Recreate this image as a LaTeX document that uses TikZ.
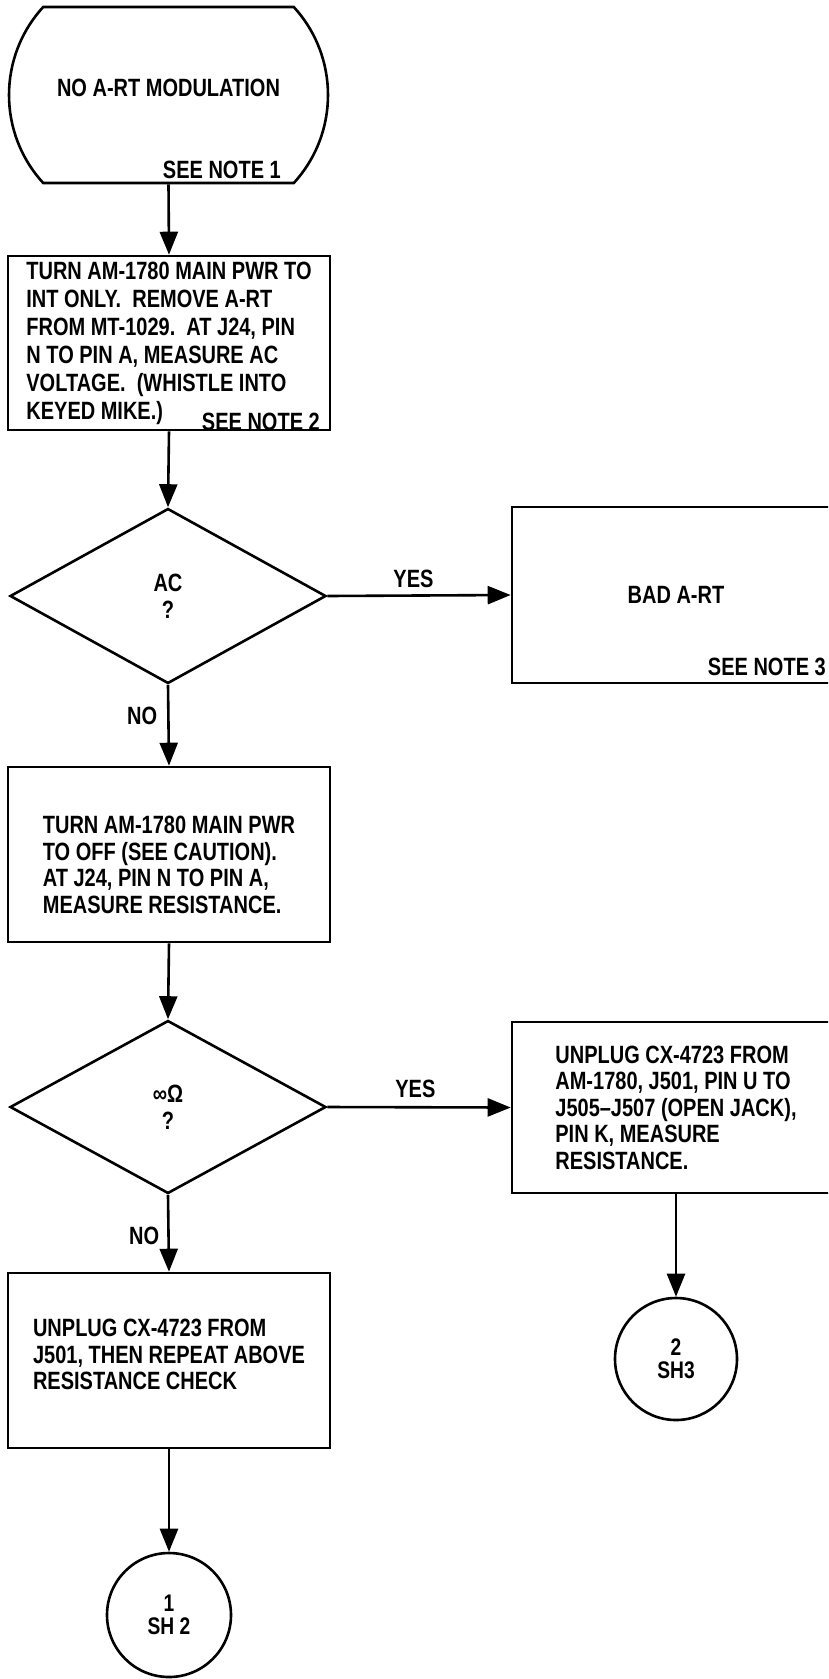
\documentclass[tikz,border=0pt]{standalone}
\usepackage{fontspec}
\setmainfont[FakeStretch=0.8]{Liberation Sans}
\usetikzlibrary{shapes.geometric, shapes.misc, arrows.meta}
\tikzset{
    term_round/.style={
        rounded rectangle, rounded rectangle arc length=85, draw=black, line width=2.6pt,
        minimum width=319pt, minimum height=176pt, inner sep=0pt,
        align=center, font=\bfseries\fontsize{25}{28}\selectfont
    },
    box_step/.style={
        rectangle, draw=black, line width=2.6pt,
        minimum width=322pt, minimum height=175pt, inner sep=0pt,
        align=left, font=\bfseries\fontsize{25}{26.5}\selectfont
    },
    box_side/.style={
        box_step, minimum width=328pt
    },
    dec_diamond/.style={
        diamond, aspect=1.8, draw=black, line width=2.6pt,
        minimum width=316pt, minimum height=175pt, inner sep=0pt,
        align=center, font=\bfseries\fontsize{25}{27}\selectfont
    },
    conn_circle/.style={
        circle, draw=black, line width=2.6pt, minimum size=124pt, inner sep=0pt,
        align=center, font=\bfseries\fontsize{24}{23}\selectfont
    },
    flow_arrow/.style={
        -{Triangle[length=23pt, width=18pt]}, draw=black, line width=2.6pt
    },
    note_txt/.style={
        anchor=east, inner sep=0pt, font=\bfseries\fontsize{25}{26}\selectfont
    },
    edge_lbl/.style={
        inner sep=0pt, font=\bfseries\fontsize{25}{26}\selectfont
    }
}

\begin{document}
\begin{tikzpicture}[x=1pt, y=-1pt]
    \useasboundingbox (0,0) rectangle (828,1679);
    \clip (0,0) rectangle (828,1679);

    % Left column
    \node[term_round, text depth=14pt] (start) at (168.5, 95) {NO A-RT MODULATION};
    \node[note_txt] (note1) at (281, 169.5) {SEE NOTE 1};

    \node[box_step, minimum height=174pt, font=\bfseries\fontsize{25}{28}\selectfont] (step1) at (169, 343)
        {TURN AM-1780 MAIN PWR TO\\INT ONLY.\ \ REMOVE A-RT\\FROM MT-1029.\ \ AT J24, PIN\\N TO PIN A, MEASURE AC\\VOLTAGE.\ \ (WHISTLE INTO\\KEYED MIKE.)};
    \node[note_txt] (note2) at (320, 421.5) {SEE NOTE 2};

    \node[dec_diamond] (check1) at (168, 596) {AC\\?};

    \node[box_step, text height=118pt] (step2) at (169, 854.5)
        {TURN AM-1780 MAIN PWR\\TO OFF (SEE CAUTION).\\AT J24, PIN N TO PIN A,\\MEASURE RESISTANCE.};

    \node[dec_diamond, minimum height=173pt] (check2) at (168, 1107) {∞Ω\\?};

    \node[box_step, text depth=12pt] (step4) at (169, 1360.5)
        {UNPLUG CX-4723 FROM\\J501, THEN REPEAT ABOVE\\RESISTANCE CHECK};

    \node[conn_circle] (sheet2) at (169, 1615) {1\\SH 2};

    % Right column
    \node[box_side, minimum height=176pt, align=center] (bad) at (676, 595) {BAD A-RT};
    \node[note_txt] (note3) at (826, 667) {SEE NOTE 3};

    \node[box_side, minimum height=171pt] (step3) at (676, 1107.5)
        {UNPLUG CX-4723 FROM\\AM-1780, J501, PIN U TO\\J505--J507 (OPEN JACK),\\PIN K, MEASURE\\RESISTANCE.};

    \node[conn_circle, minimum size=122pt] (sheet3) at (676, 1359) {2\\SH3};

    % Connectors
    \draw[flow_arrow] (start.south) -- (step1.north);
    \draw[flow_arrow] (step1.south) -- (check1.north);
    \draw[flow_arrow] (check1.east) -- node[edge_lbl, above=6pt, pos=0.47] (yes1) {YES} (bad.west);
    \draw[flow_arrow] (check1.south) -- node[edge_lbl, left=10pt, pos=0.38] (no1) {NO} (step2.north);
    \draw[flow_arrow] (step2.south) -- (check2.north);
    \draw[flow_arrow] (check2.east) -- node[edge_lbl, above=8pt, pos=0.48] (yes2) {YES} (step3.west);
    \draw[flow_arrow] (check2.south) -- node[edge_lbl, left=8pt, pos=0.54] (no2) {NO} (step4.north);
    \draw[flow_arrow] (step3.south) -- (sheet3.north);
    \draw[flow_arrow] (step4.south) -- (sheet2.north);
\end{tikzpicture}
\end{document}
